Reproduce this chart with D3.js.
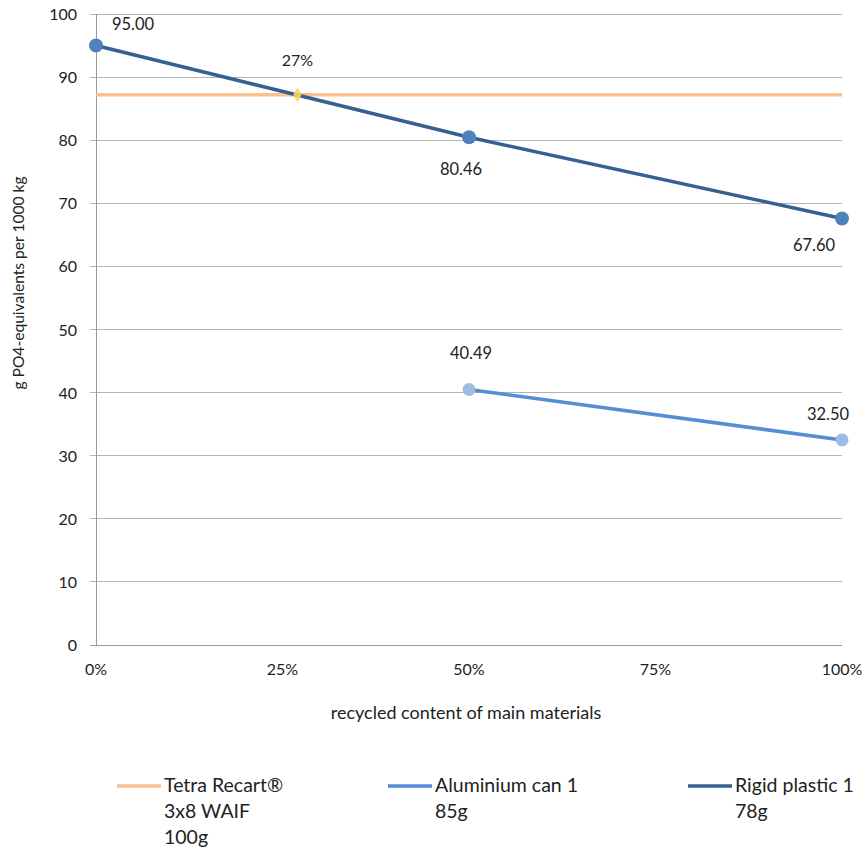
<!DOCTYPE html>
<html><head><meta charset="utf-8">
<script src="https://cdn.jsdelivr.net/npm/d3@7"></script>
<style>body{margin:0;background:#fff}text{font-family:Lato,"Open Sans",sans-serif;fill:#222}</style>
</head><body><svg id="c" width="863" height="849"></svg>
<script>
const xTicks = [0, 0.25, 0.5, 0.75, 1];
const yTicks = [0,10,20,30,40,50,60,70,80,90,100];
const tetraValue = 87.2;
const breakEven = {x: 0.27, label: "27%"};
const rigidX = [0, 0.5, 1];
const rigidY = [95.00, 80.46, 67.60];
const aluX = [0.5, 1];
const aluY = [40.49, 32.50];
const legendNames = [["Tetra Recart®","3x8 WAIF","100g"],["Aluminium can 1","85g"],["Rigid plastic 1","78g"]];
const colors = {tetra:"#FAC090", alu:"#558ED5", aluMark:"#9DBCE4", rigid:"#376092", rigidMark:"#4F81BD", diamond:"#F9D55F"};

const svg = d3.select("#c");
const x = d3.scaleLinear().domain([0,1]).range([96,842]);
const y = d3.scaleLinear().domain([0,100]).range([645,14]);

// gridlines
svg.append("g").selectAll("line").data(yTicks).join("line")
  .attr("x1",90).attr("x2",842).attr("y1",d=>y(d)).attr("y2",d=>y(d))
  .attr("stroke",d=>d===0?"#999":"#b3b3b3").attr("stroke-width",1).attr("shape-rendering","crispEdges");
svg.append("line").attr("x1",96).attr("x2",96).attr("y1",14).attr("y2",645)
  .attr("stroke","#999").attr("shape-rendering","crispEdges");

// y tick labels
svg.append("g").selectAll("text").data(yTicks).join("text")
  .attr("x",77).attr("y",d=>y(d)+6).attr("text-anchor","end").attr("font-size",16).text(d=>d);
// x tick labels
svg.append("g").selectAll("text").data(xTicks).join("text")
  .attr("x",d=>x(d)).attr("y",675).attr("text-anchor","middle").attr("font-size",16).text(d3.format(".0%"));

// axis titles
svg.append("text").attr("x",466).attr("y",719).attr("text-anchor","middle").attr("font-size",18).text("recycled content of main materials");
svg.append("text").attr("transform","translate(24,283) rotate(-90)").attr("text-anchor","middle").attr("font-size",15.6).text("g PO4-equivalents per 1000 kg");

// tetra line
svg.append("line").attr("x1",x(0)).attr("x2",x(1)).attr("y1",y(tetraValue)).attr("y2",y(tetraValue))
  .attr("stroke",colors.tetra).attr("stroke-width",3.5);

const line = d3.line().x(d=>x(d[0])).y(d=>y(d[1]));
// aluminium
const alu = aluX.map((v,i)=>[v,aluY[i]]);
svg.append("path").attr("d",line(alu)).attr("fill","none").attr("stroke",colors.alu).attr("stroke-width",3.5);
svg.append("g").selectAll("circle").data(alu).join("circle")
  .attr("cx",d=>x(d[0])).attr("cy",d=>y(d[1])).attr("r",6.5).attr("fill",colors.aluMark);
// rigid
const rig = rigidX.map((v,i)=>[v,rigidY[i]]);
svg.append("path").attr("d",line(rig)).attr("fill","none").attr("stroke",colors.rigid).attr("stroke-width",3.5);
svg.append("g").selectAll("circle").data(rig).join("circle")
  .attr("cx",d=>x(d[0])).attr("cy",d=>y(d[1])).attr("r",7).attr("fill",colors.rigidMark);

// diamond
svg.append("path").attr("d",d3.symbol(d3.symbolDiamond,60)()).attr("transform",`translate(${x(breakEven.x)},${y(tetraValue)})`)
  .attr("fill",colors.diamond).attr("opacity",0.9);
svg.append("text").attr("x",x(breakEven.x)).attr("y",y(tetraValue)-29).attr("text-anchor","middle").attr("font-size",16).text(breakEven.label);

// data labels
const fmt = d3.format(".2f");
const rigOff = [[37,-16],[-8,38],[-28,33]];
svg.append("g").selectAll("text").data(rig).join("text")
  .attr("x",(d,i)=>x(d[0])+rigOff[i][0]).attr("y",(d,i)=>y(d[1])+rigOff[i][1])
  .attr("text-anchor","middle").attr("font-size",16.5).text(d=>fmt(d[1]));
const aluOff = [[2,-31],[-14,-20]];
svg.append("g").selectAll("text").data(alu).join("text")
  .attr("x",(d,i)=>x(d[0])+aluOff[i][0]).attr("y",(d,i)=>y(d[1])+aluOff[i][1])
  .attr("text-anchor","middle").attr("font-size",16.5).text(d=>fmt(d[1]));

// legend
const legX = [117, 388, 688];
const legColors = [colors.tetra, colors.alu, colors.rigid];
legendNames.forEach((lines,i)=>{
  svg.append("line").attr("x1",legX[i]).attr("x2",legX[i]+44).attr("y1",786).attr("y2",786)
    .attr("stroke",legColors[i]).attr("stroke-width",3.5);
  lines.forEach((t,j)=>{
    svg.append("text").attr("x",legX[i]+47).attr("y",792+j*26).attr("font-size",19.5).text(t);
  });
});
</script></body></html>
